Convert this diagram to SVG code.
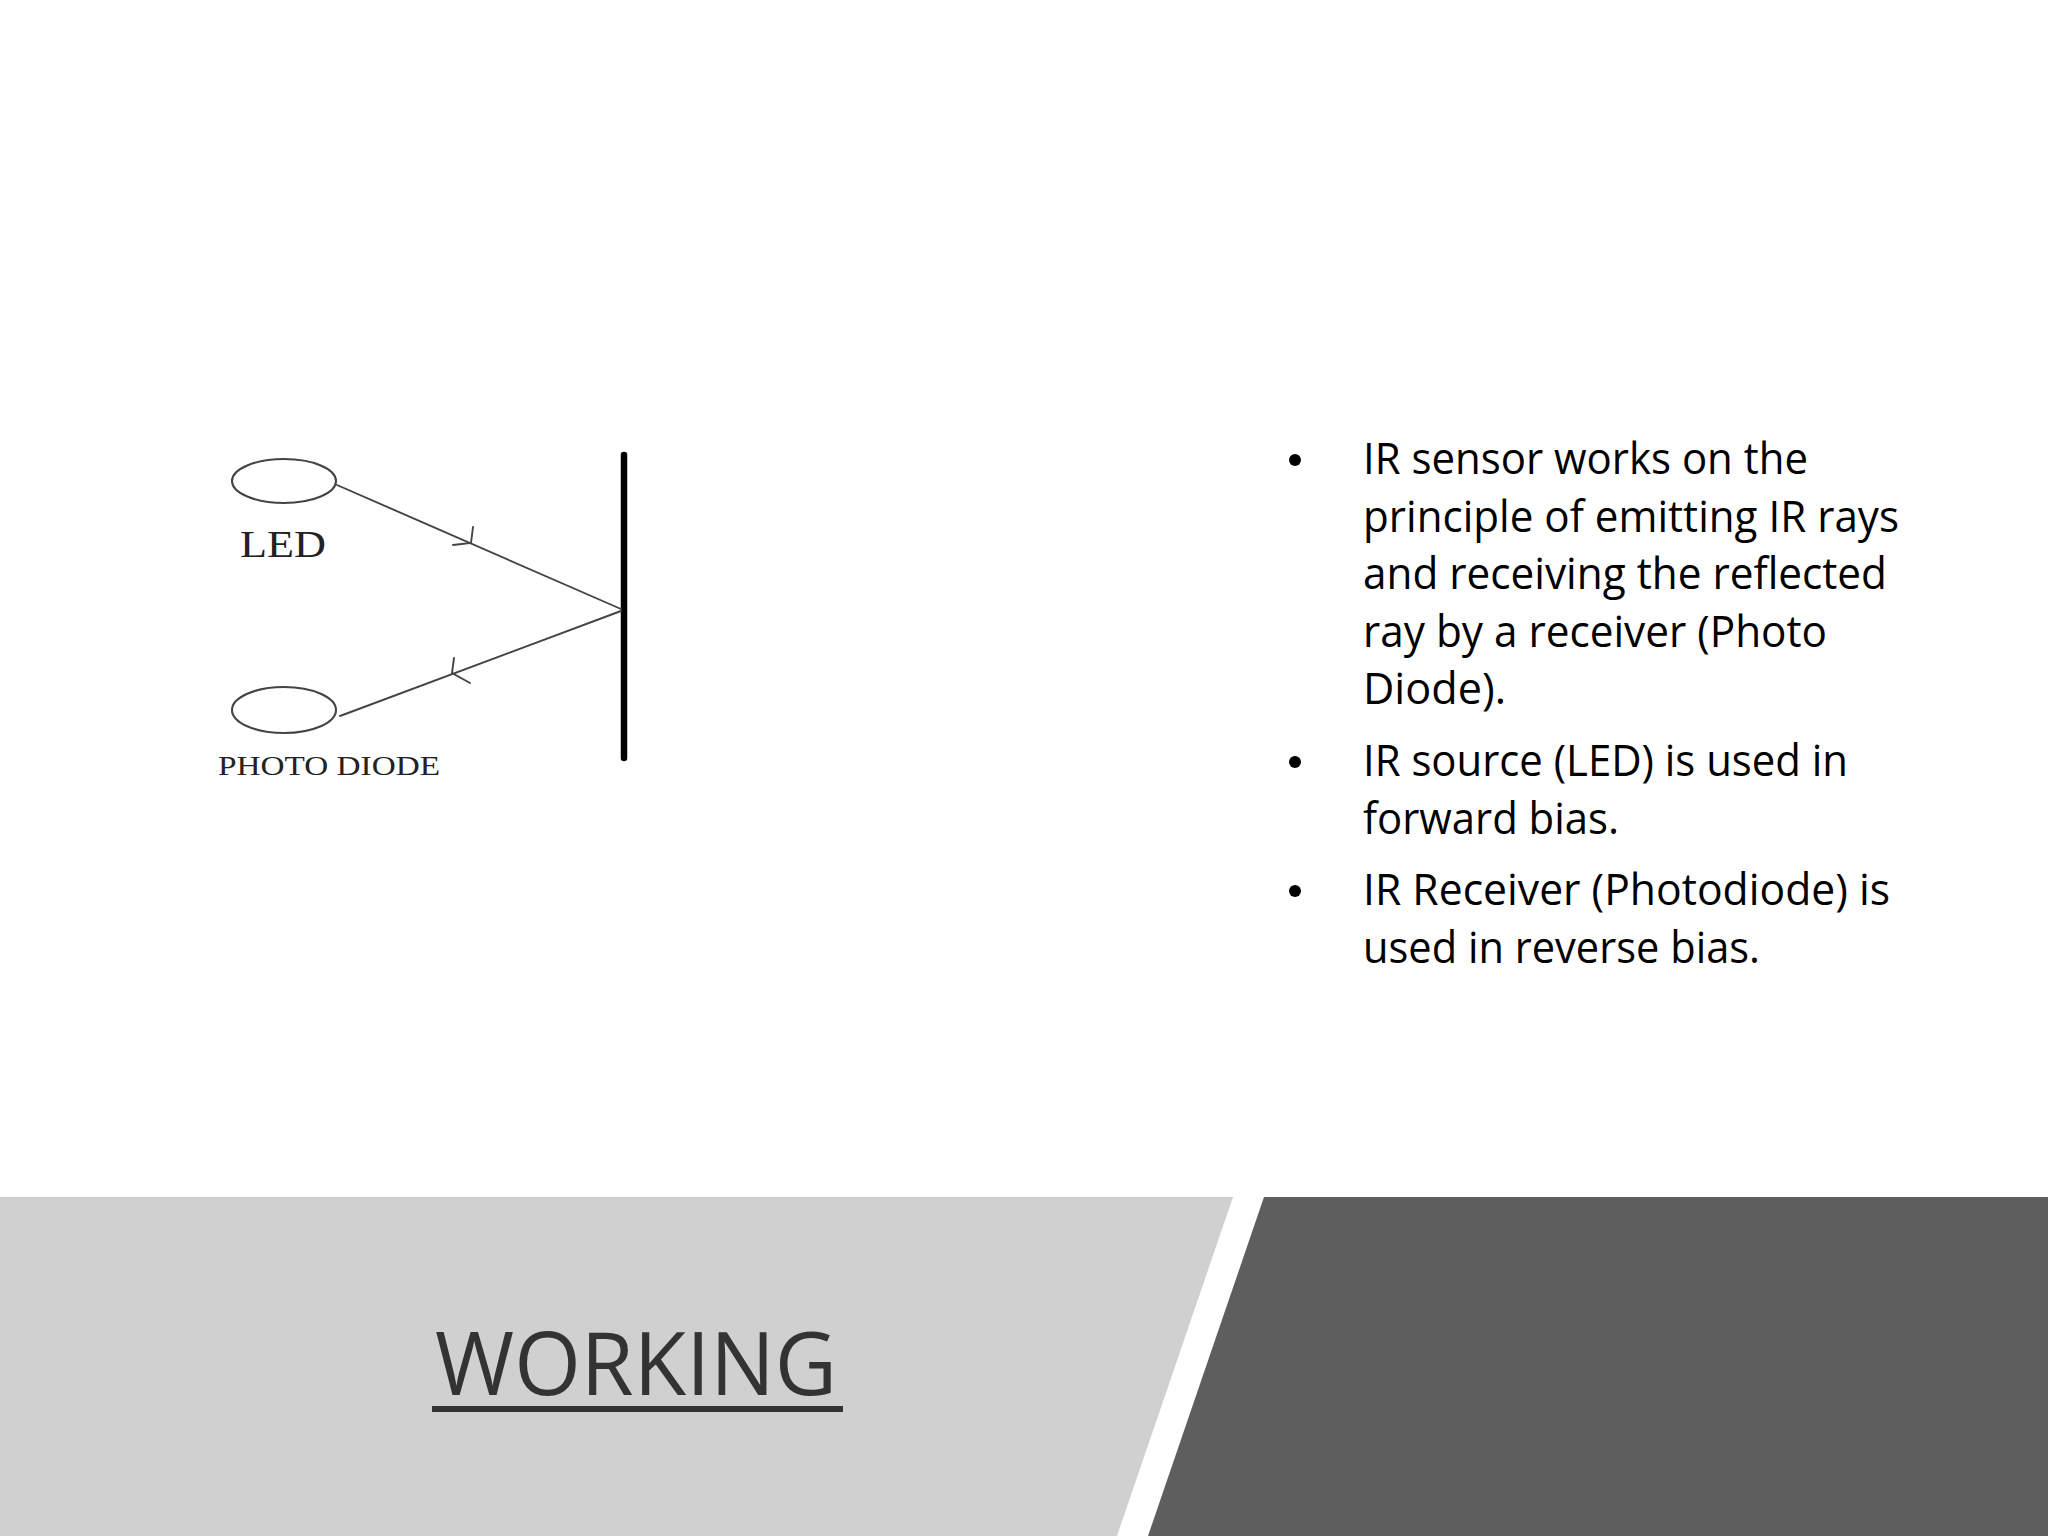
<svg xmlns="http://www.w3.org/2000/svg" width="2048" height="1536" viewBox="0 0 2048 1536">
  <style>
    .ray { stroke: #444444; stroke-width: 1.9; fill: none; stroke-linecap: round; }
    .part { stroke: #444444; stroke-width: 2.1; fill: #ffffff; }
    .lbl { font-family: "Liberation Serif", "Times New Roman", serif; fill: #222222; }
    .body { font-family: "Open Sans", "Liberation Sans", sans-serif; font-size: 43px; fill: #000000; }
    .title { font-family: "Open Sans", "Liberation Sans", sans-serif; font-size: 88px; fill: #333333; }
  </style>
  <rect x="0" y="0" width="2048" height="1536" fill="#ffffff"/>

  <!-- bottom band -->
  <g id="band">
    <polygon points="0,1197 1233,1197 1117,1536 0,1536" fill="#d0d0d0"/>
    <polygon points="1264,1197 2048,1197 2048,1536 1148,1536" fill="#5e5e5e"/>
  </g>

  <g id="title">
    <text class="title" x="435" y="1395" textLength="402" lengthAdjust="spacingAndGlyphs">WORKING</text>
    <rect x="432" y="1406" width="411" height="6" fill="#333333"/>
  </g>

  <!-- diagram -->
  <g id="led">
    <ellipse class="part" cx="284" cy="481" rx="52" ry="22"/>
    <text class="lbl" x="240" y="557" font-size="38" textLength="86" lengthAdjust="spacingAndGlyphs">LED</text>
  </g>
  <g id="photodiode">
    <ellipse class="part" cx="284" cy="710" rx="52" ry="23"/>
    <text class="lbl" x="218" y="775" font-size="27" textLength="222" lengthAdjust="spacingAndGlyphs">PHOTO DIODE</text>
  </g>
  <g id="reflector">
    <line x1="624" y1="455" x2="624" y2="758" stroke="#000000" stroke-width="6.5" stroke-linecap="round"/>
  </g>

  <g id="connectors">
    <line class="ray" x1="337" y1="485" x2="621" y2="609"/>
    <polyline class="ray" points="473,527 471,543 453,545"/>
    <line class="ray" x1="621" y1="611" x2="340" y2="716"/>
    <polyline class="ray" points="454,658 452,673 470,683"/>
  </g>

  <!-- bullet text -->
  <g id="bullets">
    <circle cx="1295" cy="460" r="6" fill="#000"/>
    <circle cx="1295" cy="762" r="6" fill="#000"/>
    <circle cx="1295" cy="891" r="6" fill="#000"/>
    <text class="body" x="1363" y="474" textLength="445" lengthAdjust="spacingAndGlyphs">IR sensor works on the</text>
    <text class="body" x="1363" y="531.5" textLength="536" lengthAdjust="spacingAndGlyphs">principle of emitting IR rays</text>
    <text class="body" x="1363" y="589" textLength="524" lengthAdjust="spacingAndGlyphs">and receiving the reflected</text>
    <text class="body" x="1363" y="646.5" textLength="464" lengthAdjust="spacingAndGlyphs">ray by a receiver (Photo</text>
    <text class="body" x="1363" y="704" textLength="143" lengthAdjust="spacingAndGlyphs">Diode).</text>
    <text class="body" x="1363" y="776" textLength="485" lengthAdjust="spacingAndGlyphs">IR source (LED) is used in</text>
    <text class="body" x="1363" y="833.5" textLength="256" lengthAdjust="spacingAndGlyphs">forward bias.</text>
    <text class="body" x="1363" y="905" textLength="527" lengthAdjust="spacingAndGlyphs">IR Receiver (Photodiode) is</text>
    <text class="body" x="1363" y="962.5" textLength="397" lengthAdjust="spacingAndGlyphs">used in reverse bias.</text>
  </g>
</svg>
